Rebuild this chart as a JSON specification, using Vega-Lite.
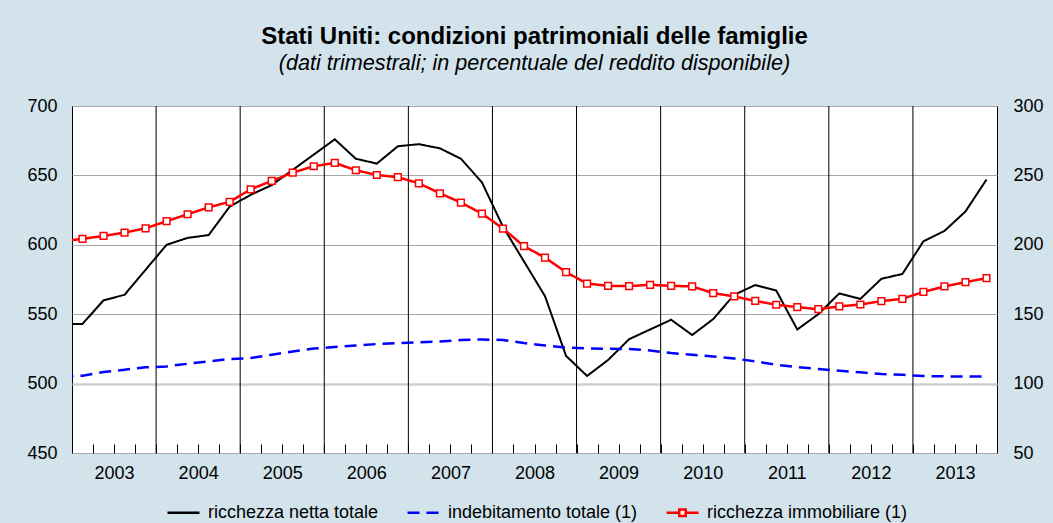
{
  "$schema": "https://vega.github.io/schema/vega-lite/v6.json",
  "width": 925,
  "height": 347,
  "autosize": {"type": "none"},
  "padding": {"left": 72, "top": 106, "right": 56, "bottom": 70},
  "background": "#d2e3ec",
  "title": {
    "text": "Stati Uniti: condizioni patrimoniali delle famiglie",
    "subtitle": "(dati trimestrali; in percentuale del reddito disponibile)",
    "anchor": "middle",
    "font": "Liberation Sans",
    "fontSize": 24,
    "fontWeight": "bold",
    "color": "black",
    "subtitleFont": "Liberation Sans",
    "subtitleFontSize": 21.6,
    "subtitleFontStyle": "italic",
    "subtitleColor": "black",
    "subtitlePadding": 4,
    "offset": 22
  },
  "data": {
    "values": [
      {"t": 2002.875, "ricchezza netta totale": 543, "indebitamento totale (1)": 105, "ricchezza immobiliare (1)": 202.5},
      {"t": 2003.125, "ricchezza netta totale": 543, "indebitamento totale (1)": 105.7, "ricchezza immobiliare (1)": 204.3},
      {"t": 2003.375, "ricchezza netta totale": 560, "indebitamento totale (1)": 108.3, "ricchezza immobiliare (1)": 206.4},
      {"t": 2003.625, "ricchezza netta totale": 564, "indebitamento totale (1)": 110, "ricchezza immobiliare (1)": 208.8},
      {"t": 2003.875, "ricchezza netta totale": 582, "indebitamento totale (1)": 111.7, "ricchezza immobiliare (1)": 211.9},
      {"t": 2004.125, "ricchezza netta totale": 600, "indebitamento totale (1)": 112.4, "ricchezza immobiliare (1)": 217},
      {"t": 2004.375, "ricchezza netta totale": 605, "indebitamento totale (1)": 114.3, "ricchezza immobiliare (1)": 222},
      {"t": 2004.625, "ricchezza netta totale": 607, "indebitamento totale (1)": 116, "ricchezza immobiliare (1)": 227},
      {"t": 2004.875, "ricchezza netta totale": 627.5, "indebitamento totale (1)": 117.7, "ricchezza immobiliare (1)": 231},
      {"t": 2005.125, "ricchezza netta totale": 636, "indebitamento totale (1)": 118.4, "ricchezza immobiliare (1)": 240},
      {"t": 2005.375, "ricchezza netta totale": 643, "indebitamento totale (1)": 120.8, "ricchezza immobiliare (1)": 246},
      {"t": 2005.625, "ricchezza netta totale": 654, "indebitamento totale (1)": 123.2, "ricchezza immobiliare (1)": 252},
      {"t": 2005.875, "ricchezza netta totale": 665, "indebitamento totale (1)": 125.3, "ricchezza immobiliare (1)": 256.6},
      {"t": 2006.125, "ricchezza netta totale": 676, "indebitamento totale (1)": 126.3, "ricchezza immobiliare (1)": 259},
      {"t": 2006.375, "ricchezza netta totale": 662, "indebitamento totale (1)": 127.5, "ricchezza immobiliare (1)": 253.7},
      {"t": 2006.625, "ricchezza netta totale": 658.5, "indebitamento totale (1)": 128.5, "ricchezza immobiliare (1)": 250.3},
      {"t": 2006.875, "ricchezza netta totale": 671, "indebitamento totale (1)": 129.2, "ricchezza immobiliare (1)": 248.7},
      {"t": 2007.125, "ricchezza netta totale": 672.5, "indebitamento totale (1)": 129.7, "ricchezza immobiliare (1)": 244.3},
      {"t": 2007.375, "ricchezza netta totale": 669.5, "indebitamento totale (1)": 130.4, "ricchezza immobiliare (1)": 237.1},
      {"t": 2007.625, "ricchezza netta totale": 662, "indebitamento totale (1)": 131.4, "ricchezza immobiliare (1)": 230.4},
      {"t": 2007.875, "ricchezza netta totale": 645, "indebitamento totale (1)": 131.8, "ricchezza immobiliare (1)": 222.5},
      {"t": 2008.125, "ricchezza netta totale": 613, "indebitamento totale (1)": 131.4, "ricchezza immobiliare (1)": 211.7},
      {"t": 2008.375, "ricchezza netta totale": 588, "indebitamento totale (1)": 129.2, "ricchezza immobiliare (1)": 199},
      {"t": 2008.625, "ricchezza netta totale": 563, "indebitamento totale (1)": 127.5, "ricchezza immobiliare (1)": 190.8},
      {"t": 2008.875, "ricchezza netta totale": 520, "indebitamento totale (1)": 126, "ricchezza immobiliare (1)": 180.3},
      {"t": 2009.125, "ricchezza netta totale": 505.5, "indebitamento totale (1)": 125.3, "ricchezza immobiliare (1)": 172.1},
      {"t": 2009.375, "ricchezza netta totale": 517, "indebitamento totale (1)": 125.1, "ricchezza immobiliare (1)": 170.4},
      {"t": 2009.625, "ricchezza netta totale": 532, "indebitamento totale (1)": 124.9, "ricchezza immobiliare (1)": 170.2},
      {"t": 2009.875, "ricchezza netta totale": 539, "indebitamento totale (1)": 123.9, "ricchezza immobiliare (1)": 171.2},
      {"t": 2010.125, "ricchezza netta totale": 546, "indebitamento totale (1)": 122, "ricchezza immobiliare (1)": 170.4},
      {"t": 2010.375, "ricchezza netta totale": 535, "indebitamento totale (1)": 120.8, "ricchezza immobiliare (1)": 170},
      {"t": 2010.625, "ricchezza netta totale": 546.5, "indebitamento totale (1)": 119.6, "ricchezza immobiliare (1)": 165.2},
      {"t": 2010.875, "ricchezza netta totale": 564, "indebitamento totale (1)": 118.1, "ricchezza immobiliare (1)": 162.8},
      {"t": 2011.125, "ricchezza netta totale": 571, "indebitamento totale (1)": 116, "ricchezza immobiliare (1)": 159.6},
      {"t": 2011.375, "ricchezza netta totale": 567, "indebitamento totale (1)": 113.6, "ricchezza immobiliare (1)": 156.8},
      {"t": 2011.625, "ricchezza netta totale": 539, "indebitamento totale (1)": 111.9, "ricchezza immobiliare (1)": 155.1},
      {"t": 2011.875, "ricchezza netta totale": 550, "indebitamento totale (1)": 110.5, "ricchezza immobiliare (1)": 153.6},
      {"t": 2012.125, "ricchezza netta totale": 565, "indebitamento totale (1)": 109.3, "ricchezza immobiliare (1)": 155.6},
      {"t": 2012.375, "ricchezza netta totale": 561, "indebitamento totale (1)": 108.1, "ricchezza immobiliare (1)": 157},
      {"t": 2012.625, "ricchezza netta totale": 575.5, "indebitamento totale (1)": 106.9, "ricchezza immobiliare (1)": 159.4},
      {"t": 2012.875, "ricchezza netta totale": 579, "indebitamento totale (1)": 106.4, "ricchezza immobiliare (1)": 161.1},
      {"t": 2013.125, "ricchezza netta totale": 602.5, "indebitamento totale (1)": 105.4, "ricchezza immobiliare (1)": 166.1},
      {"t": 2013.375, "ricchezza netta totale": 610, "indebitamento totale (1)": 105.2, "ricchezza immobiliare (1)": 170},
      {"t": 2013.625, "ricchezza netta totale": 624, "indebitamento totale (1)": 105.2, "ricchezza immobiliare (1)": 173.1},
      {"t": 2013.875, "ricchezza netta totale": 647, "indebitamento totale (1)": 105.2, "ricchezza immobiliare (1)": 176}
    ]
  },
  "transform": [
    {"fold": ["ricchezza netta totale", "indebitamento totale (1)", "ricchezza immobiliare (1)"], "as": ["serie", "v"]}
  ],
  "encoding": {
    "x": {
      "field": "t",
      "type": "quantitative",
      "scale": {"domain": [2003, 2014], "nice": false, "zero": false},
      "axis": {
        "title": null,
        "grid": false,
        "domain": false,
        "values": [2003.25, 2003.5, 2003.75, 2004, 2004.25, 2004.5, 2004.75, 2005, 2005.25, 2005.5, 2005.75, 2006, 2006.25, 2006.5, 2006.75, 2007, 2007.25, 2007.5, 2007.75, 2008, 2008.25, 2008.5, 2008.75, 2009, 2009.25, 2009.5, 2009.75, 2010, 2010.25, 2010.5, 2010.75, 2011, 2011.25, 2011.5, 2011.75, 2012, 2012.25, 2012.5, 2012.75, 2013, 2013.25, 2013.5, 2013.75],
        "labelExpr": "datum.value % 1 == 0.5 ? floor(datum.value) + '' : ''",
        "ticks": true,
        "tickSize": -9,
        "tickColor": "black",
        "tickWidth": 1,
        "labelPadding": 20,
        "labelFontSize": 18,
        "labelColor": "black",
        "labelFont": "Liberation Sans",
        "labelOverlap": false,
        "labelFlush": false
      }
    }
  },
  "layer": [
    {
      "data": {"values": [{"t": 2004}, {"t": 2005}, {"t": 2006}, {"t": 2007}, {"t": 2008}, {"t": 2009}, {"t": 2010}, {"t": 2011}, {"t": 2012}, {"t": 2013}]},
      "transform": [],
      "mark": {"type": "rule", "color": "black", "strokeWidth": 1}
    },
    {
      "transform": [{"filter": "datum.serie == 'ricchezza netta totale'"}],
      "mark": {"type": "line", "strokeWidth": 2, "clip": true},
      "encoding": {
        "y": {
          "field": "v",
          "type": "quantitative",
          "scale": {"domain": [450, 700], "nice": false, "zero": false},
          "axis": {
            "title": null,
            "values": [450, 500, 550, 600, 650, 700],
            "grid": true,
            "gridColor": {"condition": {"test": "datum.value === 500", "value": "#cfcfcf"}, "value": "#a8a8a8"},
            "gridWidth": {"condition": {"test": "datum.value === 500", "value": 2.5}, "value": 1.2},
            "ticks": false,
            "domain": false,
            "labelPadding": 15,
            "labelFontSize": 18,
            "labelColor": "black",
            "labelFont": "Liberation Sans"
          }
        },
        "color": {
          "field": "serie",
          "type": "nominal",
          "scale": {
            "domain": ["ricchezza netta totale", "indebitamento totale (1)", "ricchezza immobiliare (1)"],
            "range": ["#000000", "#0000ff", "#ff0000"]
          },
          "legend": {
            "title": null,
            "orient": "none",
            "legendX": 94,
            "legendY": 389,
            "direction": "horizontal",
            "labelFontSize": 18,
            "labelFont": "Liberation Sans",
            "labelColor": "black",
            "labelLimit": 400,
            "symbolSize": 1024,
            "symbolStrokeWidth": 2.5,
            "labelOffset": 7,
            "columnPadding": 23,
            "encode": {
              "symbols": {
                "update": {
                  "shape": {"signal": "datum.value === 'ricchezza immobiliare (1)' ? 'M-1,0H-0.2M0.2,0H1M-0.2,-0.2H0.2V0.2H-0.2Z' : 'stroke'"},
                  "fill": {"signal": "datum.value === 'ricchezza immobiliare (1)' ? 'white' : 'transparent'"}
                }
              }
            }
          }
        },
        "strokeDash": {
          "field": "serie",
          "type": "nominal",
          "scale": {
            "domain": ["ricchezza netta totale", "indebitamento totale (1)", "ricchezza immobiliare (1)"],
            "range": [[1, 0], [12, 7], [1, 0]]
          },
          "legend": {"title": null, "orient": "none", "legendX": 94, "legendY": 389, "direction": "horizontal", "labelLimit": 400}
        }
      }
    },
    {
      "transform": [{"filter": "datum.serie != 'ricchezza netta totale'"}],
      "encoding": {
        "y": {
          "field": "v",
          "type": "quantitative",
          "scale": {"domain": [50, 300], "nice": false, "zero": false},
          "axis": {
            "title": null,
            "orient": "right",
            "values": [50, 100, 150, 200, 250, 300],
            "grid": false,
            "ticks": false,
            "domain": false,
            "labelPadding": 16,
            "labelFontSize": 18,
            "labelColor": "black",
            "labelFont": "Liberation Sans"
          }
        }
      },
      "layer": [
        {
          "mark": {"type": "line", "strokeWidth": 2.5, "clip": true},
          "encoding": {
            "color": {"field": "serie", "type": "nominal"},
            "strokeDash": {"field": "serie", "type": "nominal"}
          }
        },
        {
          "transform": [{"filter": "datum.serie == 'ricchezza immobiliare (1)'"}],
          "mark": {"type": "point", "shape": "square", "filled": true, "fill": "white", "stroke": "#ff0000", "strokeWidth": 1.5, "size": 45, "opacity": 1, "clip": true}
        }
      ]
    }
  ],
  "resolve": {"scale": {"y": "independent"}},
  "config": {
    "view": {"stroke": "black", "strokeWidth": 1, "fill": "white"},
    "font": "Liberation Sans"
  }
}
